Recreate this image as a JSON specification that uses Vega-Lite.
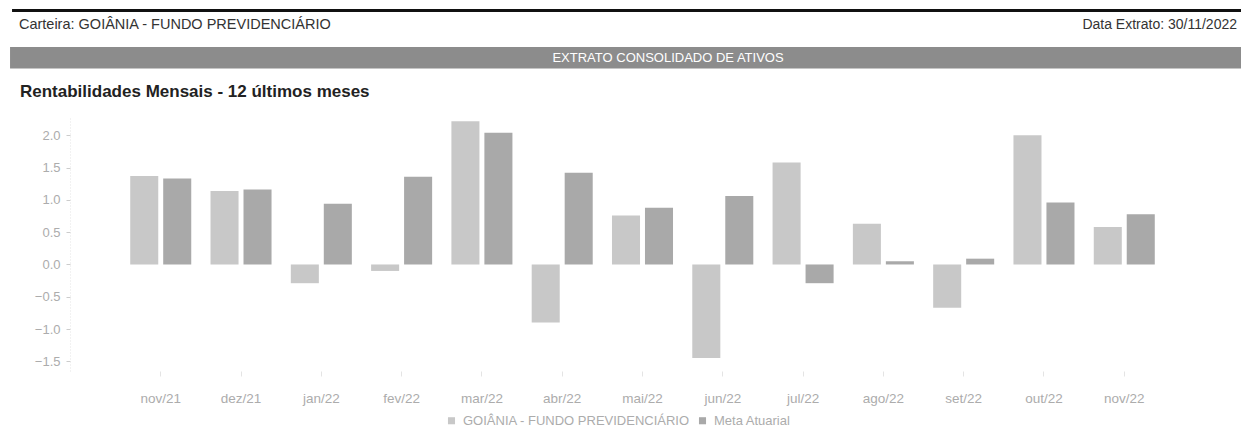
{
  "$schema": "https://vega.github.io/schema/vega-lite/v6.json",
  "padding": {"left": 10, "top": 0, "right": 0, "bottom": 0},
  "autosize": {"type": "pad"},
  "spacing": 11,
  "config": {"view": {"stroke": null}, "font": "Liberation Sans"},
  "datasets": {
    "cabecalho": [
      {"campo": "carteira", "texto": "Carteira: GOIÂNIA - FUNDO PREVIDENCIÁRIO"},
      {"campo": "data", "texto": "Data Extrato: 30/11/2022"},
      {"campo": "titulo", "texto": "EXTRATO CONSOLIDADO DE ATIVOS"}
    ],
    "rent": [
      {"mes": "nov/21", "serie": "GOIÂNIA - FUNDO PREVIDENCIÁRIO", "valor": 1.37},
      {"mes": "nov/21", "serie": "Meta Atuarial", "valor": 1.33},
      {"mes": "dez/21", "serie": "GOIÂNIA - FUNDO PREVIDENCIÁRIO", "valor": 1.14},
      {"mes": "dez/21", "serie": "Meta Atuarial", "valor": 1.16},
      {"mes": "jan/22", "serie": "GOIÂNIA - FUNDO PREVIDENCIÁRIO", "valor": -0.29},
      {"mes": "jan/22", "serie": "Meta Atuarial", "valor": 0.94},
      {"mes": "fev/22", "serie": "GOIÂNIA - FUNDO PREVIDENCIÁRIO", "valor": -0.1},
      {"mes": "fev/22", "serie": "Meta Atuarial", "valor": 1.36},
      {"mes": "mar/22", "serie": "GOIÂNIA - FUNDO PREVIDENCIÁRIO", "valor": 2.22},
      {"mes": "mar/22", "serie": "Meta Atuarial", "valor": 2.04},
      {"mes": "abr/22", "serie": "GOIÂNIA - FUNDO PREVIDENCIÁRIO", "valor": -0.9},
      {"mes": "abr/22", "serie": "Meta Atuarial", "valor": 1.42},
      {"mes": "mai/22", "serie": "GOIÂNIA - FUNDO PREVIDENCIÁRIO", "valor": 0.76},
      {"mes": "mai/22", "serie": "Meta Atuarial", "valor": 0.88},
      {"mes": "jun/22", "serie": "GOIÂNIA - FUNDO PREVIDENCIÁRIO", "valor": -1.45},
      {"mes": "jun/22", "serie": "Meta Atuarial", "valor": 1.06},
      {"mes": "jul/22", "serie": "GOIÂNIA - FUNDO PREVIDENCIÁRIO", "valor": 1.58},
      {"mes": "jul/22", "serie": "Meta Atuarial", "valor": -0.29},
      {"mes": "ago/22", "serie": "GOIÂNIA - FUNDO PREVIDENCIÁRIO", "valor": 0.63},
      {"mes": "ago/22", "serie": "Meta Atuarial", "valor": 0.05},
      {"mes": "set/22", "serie": "GOIÂNIA - FUNDO PREVIDENCIÁRIO", "valor": -0.67},
      {"mes": "set/22", "serie": "Meta Atuarial", "valor": 0.09},
      {"mes": "out/22", "serie": "GOIÂNIA - FUNDO PREVIDENCIÁRIO", "valor": 2.0},
      {"mes": "out/22", "serie": "Meta Atuarial", "valor": 0.96},
      {"mes": "nov/22", "serie": "GOIÂNIA - FUNDO PREVIDENCIÁRIO", "valor": 0.58},
      {"mes": "nov/22", "serie": "Meta Atuarial", "valor": 0.78}
    ]
  },
  "vconcat": [
    {
      "width": 1171,
      "height": 72,
      "data": {"name": "cabecalho"},
      "layer": [
        {
          "transform": [{"filter": "datum.campo == 'carteira'"}],
          "mark": {"type": "rule", "stroke": "#111111", "strokeWidth": 3, "clip": false},
          "encoding": {
            "x": {"datum": -0.0495, "type": "quantitative", "scale": {"domain": [0, 1]}, "axis": null},
            "x2": {"datum": 1},
            "y": {"datum": 0.854, "type": "quantitative", "scale": {"domain": [0, 1]}, "axis": null}
          }
        },
        {
          "transform": [{"filter": "datum.campo == 'carteira'"}],
          "mark": {"type": "rect", "fill": "#8c8c8c", "clip": false},
          "encoding": {
            "x": {"datum": -0.0512, "type": "quantitative"},
            "x2": {"datum": 1},
            "y": {"datum": 0.347, "type": "quantitative"},
            "y2": {"datum": 0.05}
          }
        },
        {
          "transform": [{"filter": "datum.campo == 'carteira'"}],
          "mark": {"type": "text", "align": "left", "baseline": "middle", "fontSize": 14.5, "fill": "#333333"},
          "encoding": {
            "x": {"datum": -0.0436, "type": "quantitative"},
            "y": {"datum": 0.653, "type": "quantitative"},
            "text": {"field": "texto"}
          }
        },
        {
          "transform": [{"filter": "datum.campo == 'data'"}],
          "mark": {"type": "text", "align": "right", "baseline": "middle", "fontSize": 14, "fill": "#333333"},
          "encoding": {
            "x": {"datum": 0.9966, "type": "quantitative"},
            "y": {"datum": 0.653, "type": "quantitative"},
            "text": {"field": "texto"}
          }
        },
        {
          "transform": [{"filter": "datum.campo == 'titulo'"}],
          "mark": {"type": "text", "align": "center", "baseline": "middle", "fontSize": 13, "fill": "#ffffff"},
          "encoding": {
            "x": {"datum": 0.5107, "type": "quantitative"},
            "y": {"datum": 0.2, "type": "quantitative"},
            "text": {"field": "texto"}
          }
        }
      ]
    },
    {
      "width": 1145,
      "height": 255,
      "data": {"name": "rent"},
      "title": {
        "text": "Rentabilidades Mensais - 12 últimos meses",
        "anchor": "start",
        "frame": "bounds",
        "fontSize": 17,
        "fontWeight": "bold",
        "color": "#222222",
        "dx": 10,
        "offset": 15
      },
      "mark": {"type": "bar"},
      "encoding": {
        "x": {
          "field": "mes",
          "type": "nominal",
          "sort": null,
          "scale": {"paddingInner": 0.24, "paddingOuter": 0.75},
          "axis": {
            "title": null,
            "labelAngle": 0,
            "domain": false,
            "tickColor": "#e4e4e4",
            "tickSize": 5,
            "labelPadding": 15,
            "labelFontSize": 13.5,
            "labelColor": "#acacac"
          }
        },
        "xOffset": {
          "field": "serie",
          "type": "nominal",
          "scale": {"paddingInner": 0.15}
        },
        "y": {
          "field": "valor",
          "type": "quantitative",
          "scale": {"domain": [-1.65, 2.3], "nice": false, "zero": false},
          "axis": {
            "title": null,
            "grid": false,
            "values": [-1.5, -1.0, -0.5, 0.0, 0.5, 1.0, 1.5, 2.0],
            "format": ".1f",
            "domain": true,
            "domainColor": "#e4e4e4",
            "domainDash": [1, 2],
            "tickColor": "#cccccc",
            "tickSize": 4,
            "labelPadding": 6,
            "labelFontSize": 13,
            "labelColor": "#acacac",
            "minExtent": 60,
            "maxExtent": 60
          }
        },
        "color": {
          "field": "serie",
          "type": "nominal",
          "scale": {"domain": ["GOIÂNIA - FUNDO PREVIDENCIÁRIO", "Meta Atuarial"], "range": ["#c8c8c8", "#a9a9a9"]},
          "legend": {
            "title": null,
            "orient": "none",
            "legendX": 375,
            "legendY": 414,
            "direction": "horizontal",
            "symbolType": "square",
            "symbolSize": 50,
            "symbolStrokeWidth": 0,
            "labelFontSize": 13,
            "labelColor": "#acacac",
            "labelLimit": 0,
            "columnPadding": 6,
            "labelOffset": 5
          }
        }
      }
    }
  ]
}
